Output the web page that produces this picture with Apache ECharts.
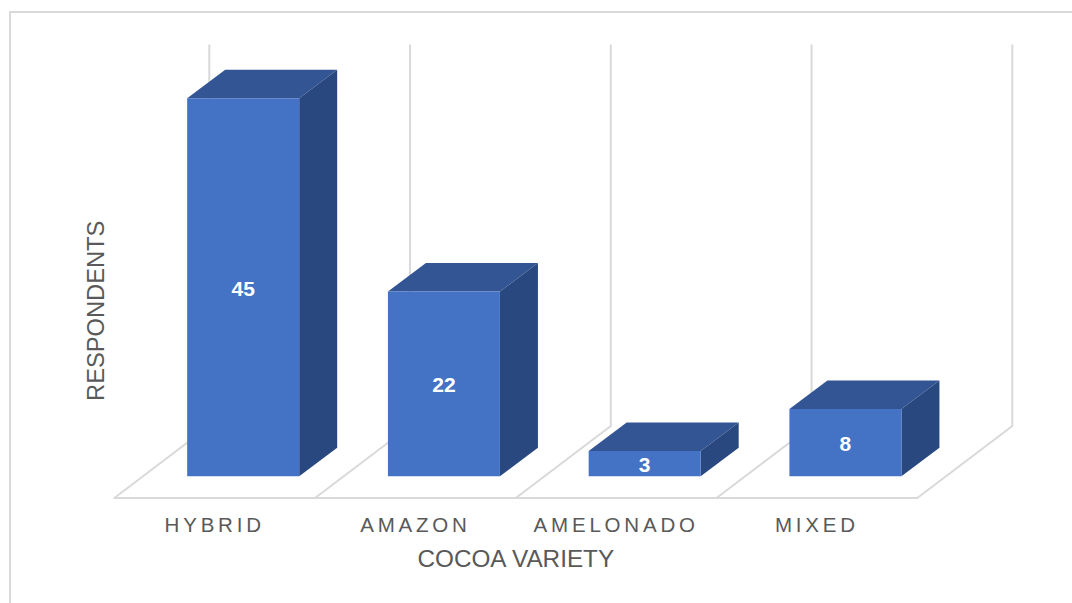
<!DOCTYPE html>
<html>
<head>
<meta charset="utf-8">
<style>
html,body{margin:0;padding:0;background:#fff;overflow:hidden}
#chart{width:1072px;height:603px}
svg text[style*="20.5px"]{letter-spacing:3.8px}
</style>
<script src="https://cdn.jsdelivr.net/npm/echarts@6/dist/echarts.min.js"></script>
</head>
<body>
<div id="chart"></div>
<script>
const categories = ['HYBRID', 'AMAZON', 'AMELONADO', 'MIXED'];
const respondents = [45, 22, 3, 8];
const wallBoundaries = [0, 1, 2, 3, 4];
const axisTitleX = 'COCOA VARIETY';
const axisTitleY = 'RESPONDENTS';

const GRID = {left: 114.3, right: 154.7, top: 116.6, bottom: 105};
const FLOOR = {dx: 95, dy: -72};
const BAR = {dx: 38, dy: -28.5, widthRatio: 0.558};
const COLORS = {front: '#4472C4', top: '#335593', side: '#2A4880', line: '#D9D9D9', text: '#595959'};
const FONT = '"Liberation Sans", Arial, sans-serif';

function renderWall(params, api) {
  const i = api.value(0);
  const band = api.size([1, 0])[0];
  const base = api.coord([0, 0]);
  const top = api.coord([0, api.value(1)]);
  const x = base[0] - band / 2 + i * band;
  const y = base[1];
  const style = {stroke: COLORS.line, lineWidth: 2, fill: 'none'};
  return {
    type: 'polyline',
    shape: {points: [[x, y], [x + FLOOR.dx, y + FLOOR.dy], [x + FLOOR.dx, top[1] + FLOOR.dy]]},
    style: style
  };
}

function renderBar(params, api) {
  const band = api.size([1, 0])[0];
  const base = api.coord([api.value(0), 0]);
  const topPt = api.coord([api.value(0), api.value(1)]);
  const w = band * BAR.widthRatio;
  const ox = (FLOOR.dx - BAR.dx) / 2;
  const oy = (FLOOR.dy - BAR.dy) / 2;
  const l = base[0] - w / 2 + ox;
  const r = l + w;
  const b = base[1] + oy;
  const t = topPt[1] + oy;
  return {
    type: 'group',
    children: [
      {type: 'polygon', shape: {points: [[l, t], [r, t], [r + BAR.dx, t + BAR.dy], [l + BAR.dx, t + BAR.dy]]}, style: {fill: COLORS.top}},
      {type: 'polygon', shape: {points: [[r, t], [r + BAR.dx, t + BAR.dy], [r + BAR.dx, b + BAR.dy], [r, b]]}, style: {fill: COLORS.side}},
      {type: 'rect', shape: {x: l, y: t, width: w, height: b - t}, style: {fill: COLORS.front}},
      {type: 'text', x: (l + r) / 2, y: (t + b) / 2 + 1,
        style: {text: String(api.value(1)), fill: '#fff', font: 'bold 21px ' + FONT, textAlign: 'center', textVerticalAlign: 'middle'}}
    ]
  };
}

const chart = echarts.init(document.getElementById('chart'), null, {renderer: 'svg'});
chart.setOption({
  backgroundColor: '#fff',
  animation: false,
  graphic: [{
    type: 'rect', silent: true, z: 0,
    shape: {x: 10, y: 12, width: 1200, height: 800},
    style: {fill: 'none', stroke: COLORS.line, lineWidth: 2}
  }],
  grid: GRID,
  xAxis: {
    type: 'category',
    data: categories,
    axisTick: {show: false},
    axisLine: {lineStyle: {color: COLORS.line, width: 2}},
    axisLabel: {color: COLORS.text, fontFamily: FONT, fontSize: 20.5, margin: 16},
    name: axisTitleX,
    nameLocation: 'middle',
    nameGap: 48,
    nameTextStyle: {color: COLORS.text, fontFamily: FONT, fontSize: 24.3}
  },
  yAxis: {
    type: 'value',
    min: 0,
    max: 45.4,
    axisLine: {show: false},
    axisTick: {show: false},
    axisLabel: {show: false},
    splitLine: {show: false},
    name: axisTitleY,
    nameLocation: 'middle',
    nameGap: 6,
    nameTextStyle: {color: COLORS.text, fontFamily: FONT, fontSize: 23.7, padding: [0, 7, 0, 0]}
  },
  series: [
    {type: 'custom', z: 1, silent: true, clip: false, renderItem: renderWall,
      encode: {x: 0, y: 1}, data: wallBoundaries.map(i => [i, 45.4])},
    {type: 'custom', z: 3, silent: true, clip: false, renderItem: renderBar,
      encode: {x: 0, y: 1}, data: respondents.map((v, i) => [i, v])}
  ]
});
</script>
</body>
</html>
